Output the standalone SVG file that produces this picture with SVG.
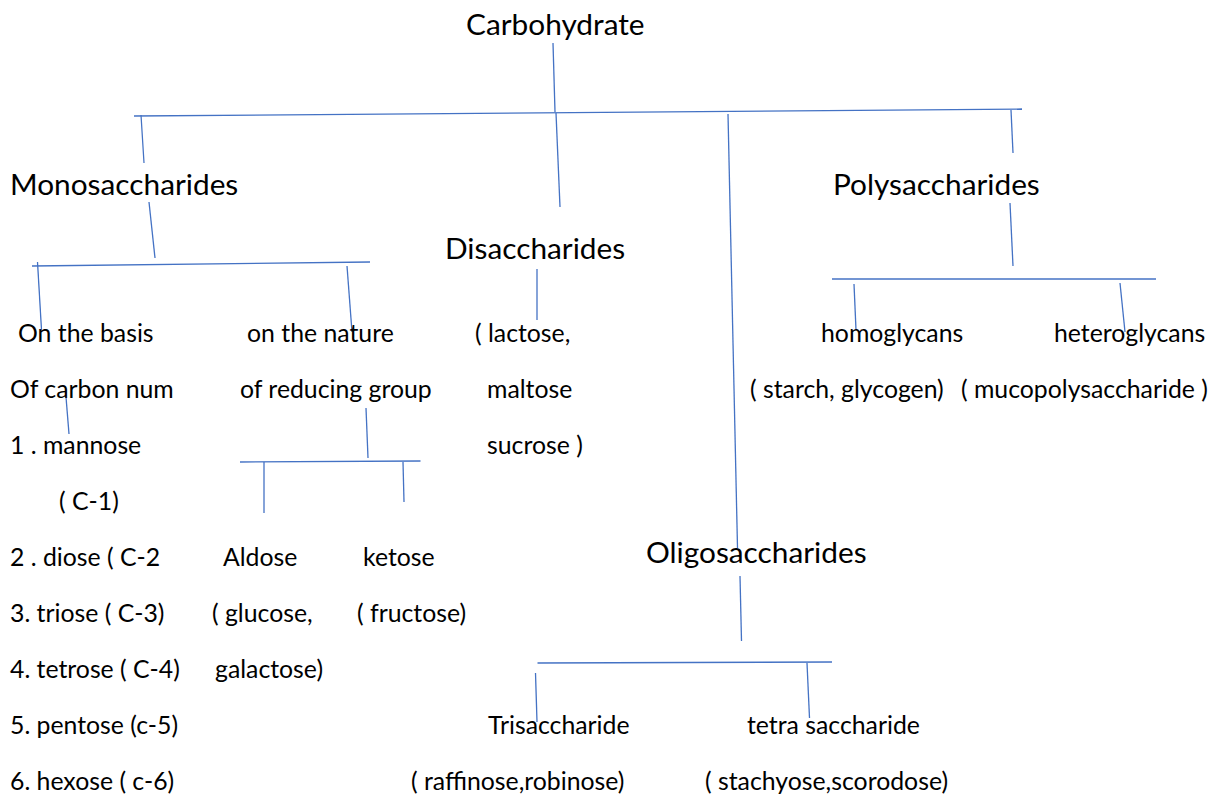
<svg xmlns="http://www.w3.org/2000/svg" width="1217" height="798" viewBox="0 0 1217 798">
<style>
.big{font-family:Lato,"Open Sans","Liberation Sans",sans-serif;font-size:29.8px;fill:#000}
.sm{font-family:Lato,"Open Sans","Liberation Sans",sans-serif;font-size:24.8px;fill:#000;white-space:pre}
.ln{stroke:#4472C4;stroke-width:1.3;fill:none}
</style>
<rect width="1217" height="798" fill="#fff"/>
<g id="connectors" class="ln">
<line x1="553" y1="43" x2="555" y2="112"/>
<line x1="134" y1="116" x2="1022" y2="109"/>
<line x1="141" y1="115" x2="144" y2="163"/>
<line x1="556" y1="113" x2="560" y2="207"/>
<line x1="728" y1="114" x2="737.5" y2="548"/>
<line x1="1011" y1="110" x2="1013" y2="153"/>
<line x1="149" y1="202" x2="155" y2="258"/>
<line x1="32" y1="266" x2="370" y2="262"/>
<line x1="37.5" y1="262" x2="41.5" y2="330"/>
<line x1="347" y1="266" x2="352" y2="332"/>
<line x1="537" y1="269" x2="537" y2="320"/>
<line x1="66" y1="397" x2="69" y2="434"/>
<line x1="366" y1="408" x2="368" y2="458"/>
<line x1="240" y1="462" x2="420.5" y2="461"/>
<line x1="264" y1="462" x2="264" y2="513"/>
<line x1="403" y1="462" x2="404" y2="502"/>
<line x1="1010" y1="203" x2="1013" y2="266"/>
<line x1="832" y1="279" x2="1156" y2="279"/>
<line x1="854" y1="284" x2="856" y2="330"/>
<line x1="1120" y1="283" x2="1125" y2="332"/>
<line x1="740" y1="576" x2="741.5" y2="641"/>
<line x1="537.5" y1="663" x2="832" y2="662"/>
<line x1="535.5" y1="673" x2="537" y2="722"/>
<line x1="807" y1="663" x2="809.5" y2="718"/>
</g>
<g id="carbohydrate"><text class="big" x="466" y="35">Carbohydrate</text></g>
<g id="monosaccharides"><text class="big" x="10" y="195">Monosaccharides</text></g>
<g id="disaccharides"><text class="big" x="445" y="259">Disaccharides</text></g>
<g id="polysaccharides"><text class="big" x="833" y="195">Polysaccharides</text></g>
<g id="oligosaccharides"><text class="big" x="646" y="563">Oligosaccharides</text></g>
<g id="carbon-number">
<text class="sm" x="18" y="342">On the basis</text>
<text class="sm" x="10" y="398">Of carbon num</text>
</g>
<g id="carbon-list">
<text class="sm" x="10" y="454">1 . mannose</text>
<text class="sm" x="59" y="510">( C-1)</text>
<text class="sm" x="10" y="566">2 . diose ( C-2</text>
<text class="sm" x="10" y="622">3. triose ( C-3)</text>
<text class="sm" x="10" y="678">4. tetrose ( C-4)</text>
<text class="sm" x="10" y="734">5. pentose (c-5)</text>
<text class="sm" x="10" y="790">6. hexose ( c-6)</text>
</g>
<g id="reducing-group">
<text class="sm" x="247" y="342">on the nature</text>
<text class="sm" x="240" y="398">of reducing group</text>
</g>
<g id="aldose">
<text class="sm" x="223" y="566">Aldose</text>
<text class="sm" x="212" y="622">( glucose,</text>
<text class="sm" x="215" y="678">galactose)</text>
</g>
<g id="ketose">
<text class="sm" x="363" y="566">ketose</text>
<text class="sm" x="357" y="622">( fructose)</text>
</g>
<g id="disaccharide-examples">
<text class="sm" x="475" y="342">( lactose,</text>
<text class="sm" x="487" y="398">maltose</text>
<text class="sm" x="487" y="454">sucrose )</text>
</g>
<g id="homoglycans">
<text class="sm" x="821" y="342">homoglycans</text>
<text class="sm" x="750" y="398">( starch, glycogen)</text>
</g>
<g id="heteroglycans">
<text class="sm" x="1054" y="342">heteroglycans</text>
<text class="sm" x="961" y="398">( mucopolysaccharide )</text>
</g>
<g id="trisaccharide">
<text class="sm" x="488" y="734">Trisaccharide</text>
<text class="sm" x="411" y="790">( raffinose,robinose)</text>
</g>
<g id="tetrasaccharide">
<text class="sm" x="747" y="734">tetra saccharide</text>
<text class="sm" x="705" y="790">( stachyose,scorodose)</text>
</g>
</svg>
